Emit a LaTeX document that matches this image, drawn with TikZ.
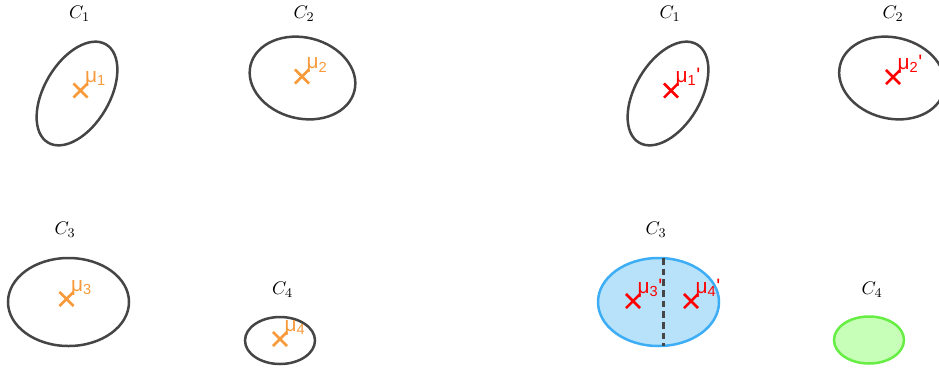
\documentclass[tikz,border=0pt]{standalone}
\usepackage{fontspec}
\newfontfamily\mufont{Liberation Sans}
\usetikzlibrary{shapes.misc,positioning}
\definecolor{muorange}{HTML}{F89A3A}
\definecolor{clgray}{HTML}{454545}
\definecolor{splitblue}{HTML}{3DAEF5}
\definecolor{splitfill}{HTML}{B8E2FA}
\definecolor{newgreen}{HTML}{66EE44}
\definecolor{newfill}{HTML}{C8FFB8}

\begin{document}
\begin{tikzpicture}[x=0.6pt, y=-0.6pt, every node/.style={font=\fontsize{11}{13}\selectfont},
	clus/.style={draw=clgray, line width=1.5pt},
	ctr/.style={cross out, draw, line width=1.5pt, minimum size=7pt, inner sep=0pt},
	mulbl/.style={font=\mufont\fontsize{12.5}{14}\selectfont, inner sep=0pt, anchor=south west}]
	\useasboundingbox (0,0) rectangle (939,369);
	% before the split
	\draw[clus, rotate around={59.5:(77,93.5)}] (77,93.5) ellipse [x radius=57, y radius=32.7];
	\draw[clus, rotate around={-14:(302.5,78)}] (302.5,78) ellipse [x radius=53.5, y radius=40.5];
	\draw[clus] (68.5,302) ellipse [x radius=60.5, y radius=44];
	\draw[clus] (280,340.5) ellipse [x radius=35, y radius=23.5];
	\node (c1) at (79.5,14) {$C_1$};
	\node (c2) at (304,14) {$C_2$};
	\node (c3) at (65,230) {$C_3$};
	\node (c4) at (282.5,290) {$C_4$};
	\foreach \i/\x/\y in {1/80.5/90.5, 2/302/76.5, 3/66.5/299, 4/280/339} {
		\node[ctr, draw=muorange] (m\i) at (\x,\y) {};
		\node[mulbl, text=muorange] (lm\i) at ([xshift=2.5pt,yshift=2pt]m\i.center) {μ\textsubscript{\i}};
	}
	% after the split
	\draw[clus, rotate around={59.5:(668,93.5)}] (668,93.5) ellipse [x radius=57, y radius=32.7];
	\draw[clus, rotate around={-14:(892,78)}] (892,78) ellipse [x radius=53.5, y radius=40.5];
	\draw[draw=splitblue, fill=splitfill, line width=1.5pt] (658.5,302) ellipse [x radius=60.5, y radius=44];
	\draw[draw=newgreen, fill=newfill, line width=1.5pt] (869,340) ellipse [x radius=35, y radius=23.5];
	\coordinate (cut1) at (663,258);
	\coordinate (cut2) at (663,346);
	\draw[clgray, line width=1.8pt, dash pattern=on 4pt off 2.4pt] (cut1) -- (cut2);
	\node (d1) at (670,14) {$C_1$};
	\node (d2) at (893,14) {$C_2$};
	\node (d3) at (656,230) {$C_3$};
	\node (d4) at (872,290) {$C_4$};
	\foreach \i/\x/\y in {1/671/90.5, 2/893/77, 3/633/301, 4/691/301} {
		\node[ctr, draw=red] (n\i) at (\x,\y) {};
		\node[mulbl, text=red] (ln\i) at ([xshift=2.5pt,yshift=2pt]n\i.center) {μ\textsubscript{\i}\textquotesingle};
	}
\end{tikzpicture}
\end{document}
